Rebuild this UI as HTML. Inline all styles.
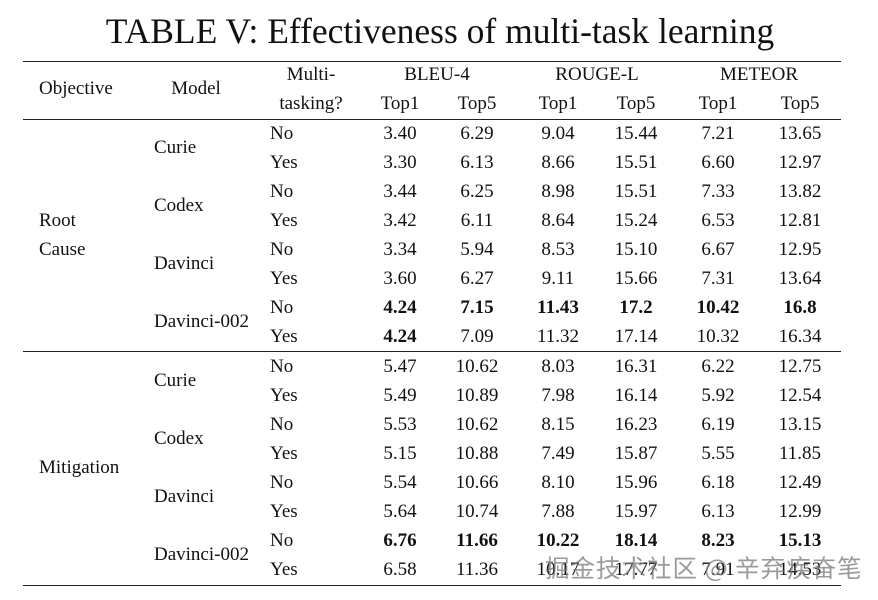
<!DOCTYPE html>
<html><head><meta charset="utf-8"><style>
body{margin:0;width:878px;height:600px;background:#fff;position:relative;overflow:hidden;font-family:"Liberation Serif",serif;color:#111}
.t{position:absolute;font-size:19px;line-height:20px;white-space:nowrap;transform:translate(-50%,-50%)}
.l{position:absolute;font-size:19px;line-height:20px;white-space:nowrap;transform:translateY(-50%)}
.b{font-weight:bold}
.hr{position:absolute;left:23px;width:818px;height:1.3px;background:#222}
</style></head><body>
<div class="t" style="left:440px;top:31px;font-size:35.5px;line-height:38px">TABLE V: Effectiveness of multi-task learning</div>
<div class="hr" style="top:61px"></div>
<div class="hr" style="top:119px"></div>
<div class="hr" style="top:351px"></div>
<div class="hr" style="top:585px"></div>
<div class="l" style="left:39px;top:89px">Objective</div>
<div class="t" style="left:196px;top:89px">Model</div>
<div class="t" style="left:311px;top:75px">Multi-</div>
<div class="t" style="left:311px;top:104px">tasking?</div>
<div class="t" style="left:437px;top:75px">BLEU-4</div>
<div class="t" style="left:597px;top:75px">ROUGE-L</div>
<div class="t" style="left:759px;top:75px">METEOR</div>
<div class="t" style="left:400px;top:104px">Top1</div>
<div class="t" style="left:477px;top:104px">Top5</div>
<div class="t" style="left:558px;top:104px">Top1</div>
<div class="t" style="left:636px;top:104px">Top5</div>
<div class="t" style="left:718px;top:104px">Top1</div>
<div class="t" style="left:800px;top:104px">Top5</div>
<div class="l" style="left:39px;top:221px">Root</div>
<div class="l" style="left:39px;top:250px">Cause</div>
<div class="l" style="left:39px;top:468px">Mitigation</div>
<div id="rows"></div>
<div class="l" style="left:545px;top:568px;font-family:'Noto Sans CJK SC',sans-serif;font-size:24.5px;letter-spacing:1px;color:rgba(120,120,120,0.75)">掘金技术社区 @ 辛弃疾奋笔</div>
<script>
const models=["Curie","Codex","Davinci","Davinci-002"];
const d=[
["3.40","6.29","9.04","15.44","7.21","13.65"],
["3.30","6.13","8.66","15.51","6.60","12.97"],
["3.44","6.25","8.98","15.51","7.33","13.82"],
["3.42","6.11","8.64","15.24","6.53","12.81"],
["3.34","5.94","8.53","15.10","6.67","12.95"],
["3.60","6.27","9.11","15.66","7.31","13.64"],
["*4.24","*7.15","*11.43","*17.2","*10.42","*16.8"],
["*4.24","7.09","11.32","17.14","10.32","16.34"],
["5.47","10.62","8.03","16.31","6.22","12.75"],
["5.49","10.89","7.98","16.14","5.92","12.54"],
["5.53","10.62","8.15","16.23","6.19","13.15"],
["5.15","10.88","7.49","15.87","5.55","11.85"],
["5.54","10.66","8.10","15.96","6.18","12.49"],
["5.64","10.74","7.88","15.97","6.13","12.99"],
["*6.76","*11.66","*10.22","*18.14","*8.23","*15.13"],
["6.58","11.36","10.17","17.77","7.91","14.53"]];
const xs=[400,477,558,636,718,800];
let h="";
d.forEach((r,i)=>{
 const y=(i<8?134+i*29:367+(i-8)*29);
 h+=`<div class="l" style="left:270px;top:${y}px">${i%2?"Yes":"No"}</div>`;
 if(i%2==0)h+=`<div class="l" style="left:154px;top:${y+14}px">${models[(i%8)/2]}</div>`;
 r.forEach((v,j)=>{const b=v[0]=="*";h+=`<div class="t${b?" b":""}" style="left:${xs[j]}px;top:${y}px">${b?v.slice(1):v}</div>`});
});
document.getElementById("rows").innerHTML=h;
</script>
</body></html>
